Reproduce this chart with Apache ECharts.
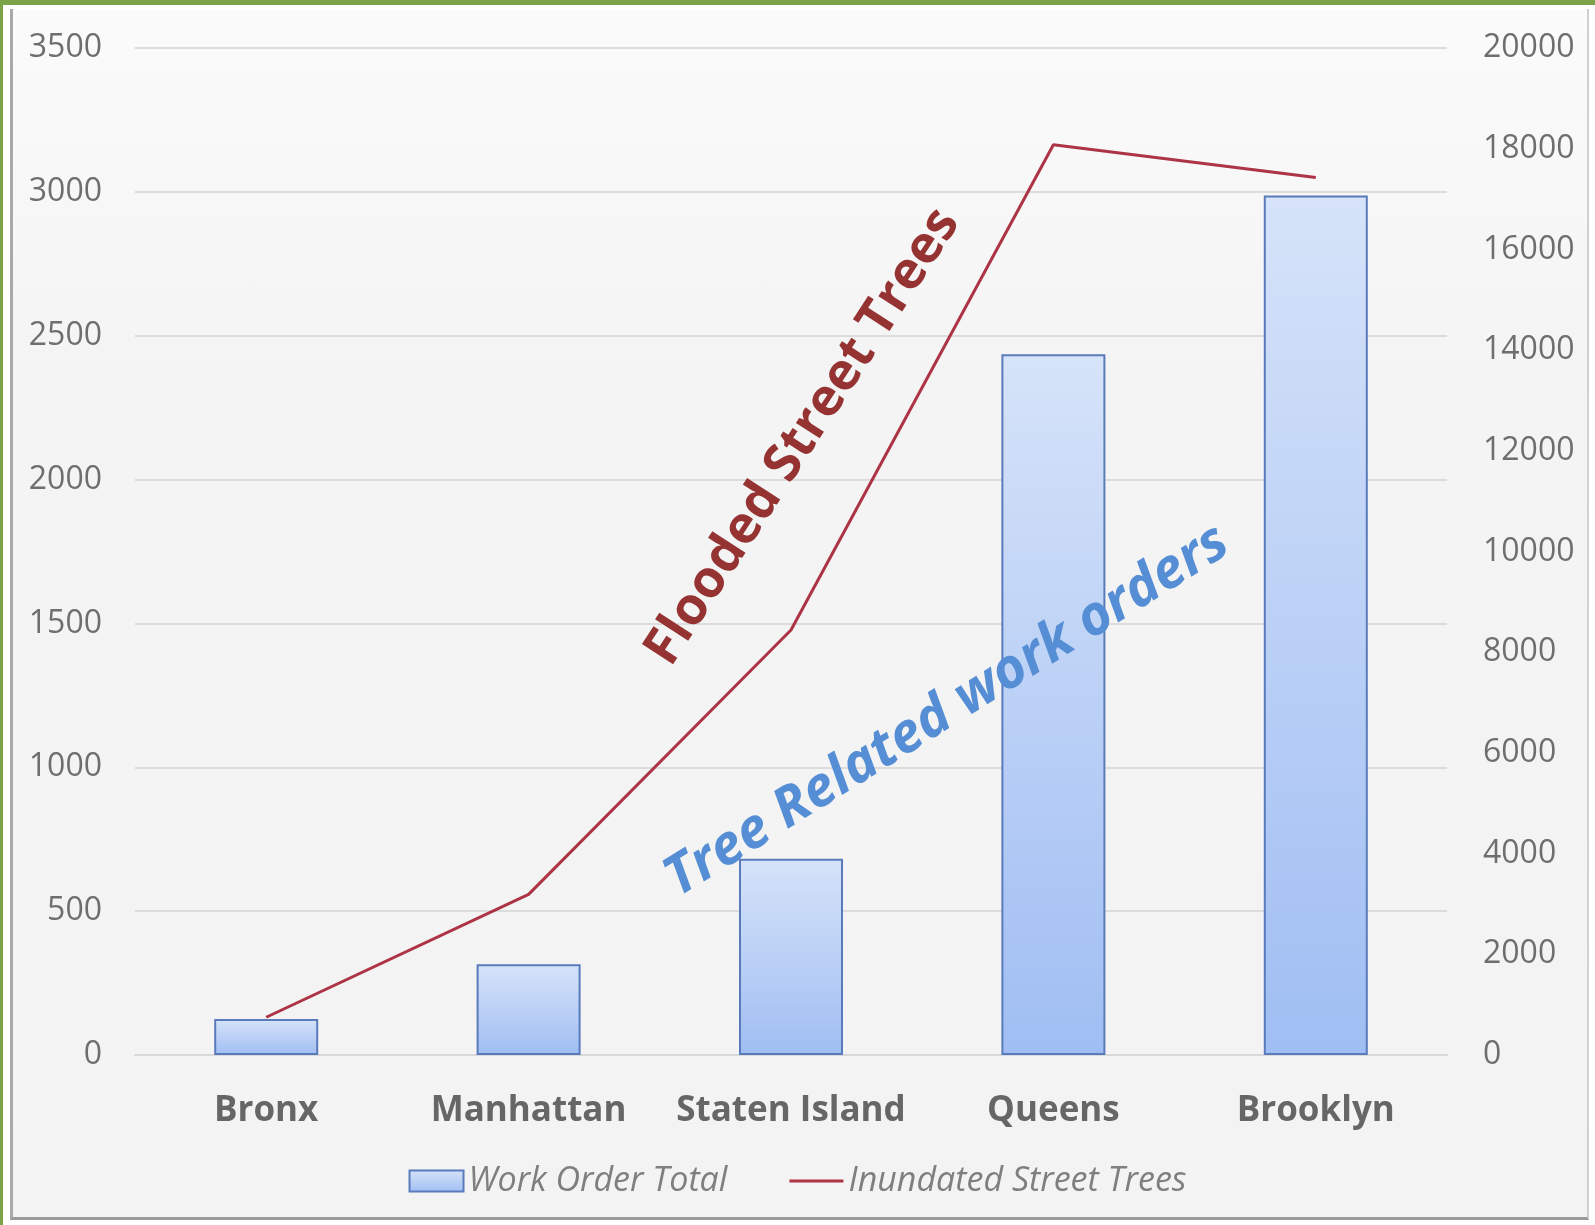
<!DOCTYPE html>
<html>
<head>
<meta charset="utf-8">
<script src="https://cdn.jsdelivr.net/npm/echarts@6/dist/echarts.min.js"></script>
<style>
  html, body { margin: 0; padding: 0; background: #ffffff; }
  #wrap { position: relative; width: 1595px; height: 1225px; overflow: hidden; background: #ffffff; }
  #topbar { position: absolute; left: 0; top: 0; width: 1595px; height: 5px; background: #7ba448; }
  #leftbar { position: absolute; left: 0; top: 0; width: 3px; height: 1225px; background: #7ba448; }
  #panel {
    position: absolute; left: 10px; top: 9px; width: 1574px; height: 1208px;
    background: linear-gradient(#fbfbfb 0%, #f4f4f4 30%, #f3f3f3 100%);
    border-left: 3px solid #a9a9a9; border-bottom: 3px solid #9a9a9a; border-right: 2px solid #d0d0d0;
  }
  #chart { position: absolute; left: 0; top: 0; width: 1595px; height: 1225px; }
</style>
</head>
<body>
<div id="wrap">
  <div id="topbar"></div>
  <div id="leftbar"></div>
  <div id="panel"></div>
  <div id="chart"></div>
</div>
<script>
// Boroughs along the category axis
const boroughs = ['Bronx', 'Manhattan', 'Staten Island', 'Queens', 'Brooklyn'];
// Tree related work orders per borough (left axis)
const workOrderTotal = [125, 315, 682, 2436, 2987];
// Street trees inside the inundation zone (right axis)
const inundatedTrees = [750, 3190, 8440, 18080, 17430];
// Axis ranges
const leftTicks = { min: 0, max: 3500, interval: 500 };
const rightTicks = { min: 0, max: 20000, interval: 2000 };

const chart = echarts.init(document.getElementById('chart'), null, { renderer: 'canvas' });
const numGray = '#6e6e6e';
const catGray = '#666666';
const lineRed = '#ad3444';

chart.setOption({
  backgroundColor: 'transparent',
  animation: false,
  grid: { left: 135, right: 148, top: 48, bottom: 170, containLabel: false },
  legend: {
    bottom: 22,
    left: 'center',
    itemWidth: 54,
    itemHeight: 21,
    itemGap: 62,
    textStyle: { fontFamily: 'Open Sans', fontStyle: 'italic', fontSize: 34, color: '#7f7f7f' },
    data: [
      { name: 'Work Order Total', icon: 'rect' },
      { name: 'Inundated Street Trees', icon: 'path://M0,0 L54,0 L54,3 L0,3 Z' }
    ]
  },
  xAxis: {
    type: 'category',
    data: boroughs,
    axisLine: { show: true, lineStyle: { color: '#d9d9d9', width: 2 } },
    axisTick: { show: false },
    axisLabel: { margin: 39, fontFamily: 'Open Sans', fontWeight: 'bold', fontSize: 35, color: catGray, interval: 0 }
  },
  yAxis: [
    {
      type: 'value',
      min: leftTicks.min, max: leftTicks.max, interval: leftTicks.interval,
      axisLine: { show: false },
      axisTick: { show: false },
      axisLabel: { margin: 33, fontFamily: 'Open Sans', fontSize: 32, color: numGray, formatter: v => String(v) },
      splitLine: { show: true, lineStyle: { color: '#dcdcdc', width: 2 } }
    },
    {
      type: 'value',
      min: rightTicks.min, max: rightTicks.max, interval: rightTicks.interval,
      axisLine: { show: false },
      axisTick: { show: false },
      axisLabel: { margin: 36, fontFamily: 'Open Sans', fontSize: 32, color: numGray, formatter: v => String(v) },
      splitLine: { show: false }
    }
  ],
  series: [
    {
      name: 'Work Order Total',
      type: 'bar',
      yAxisIndex: 0,
      data: workOrderTotal,
      barWidth: 104,
      itemStyle: {
        color: new echarts.graphic.LinearGradient(0, 0, 0, 1, [
          { offset: 0, color: '#d6e3f9' },
          { offset: 1, color: '#a0bef3' }
        ]),
        borderColor: '#5a7bbb',
        borderWidth: 2
      }
    },
    {
      name: 'Inundated Street Trees',
      type: 'line',
      yAxisIndex: 1,
      data: inundatedTrees,
      symbol: 'none',
      symbolKeepAspect: true,
      lineStyle: { color: lineRed, width: 3 },
      itemStyle: { color: lineRed }
    }
  ],
  graphic: [
    {
      type: 'text',
      x: 803, y: 437,
      rotation: 57 * Math.PI / 180,
      style: {
        text: 'Flooded Street Trees',
        fontFamily: 'Open Sans', fontWeight: 'bold', fontSize: 52,
        fill: '#953333',
        align: 'center', verticalAlign: 'middle'
      },
      z: 10
    },
    {
      type: 'text',
      x: 947, y: 711,
      rotation: 32 * Math.PI / 180,
      style: {
        text: 'Tree Related work orders',
        fontFamily: 'Open Sans', fontWeight: 'bold', fontStyle: 'italic', fontSize: 55,
        fill: '#558ed5',
        align: 'center', verticalAlign: 'middle'
      },
      z: 10
    }
  ]
});
</script>
</body>
</html>
